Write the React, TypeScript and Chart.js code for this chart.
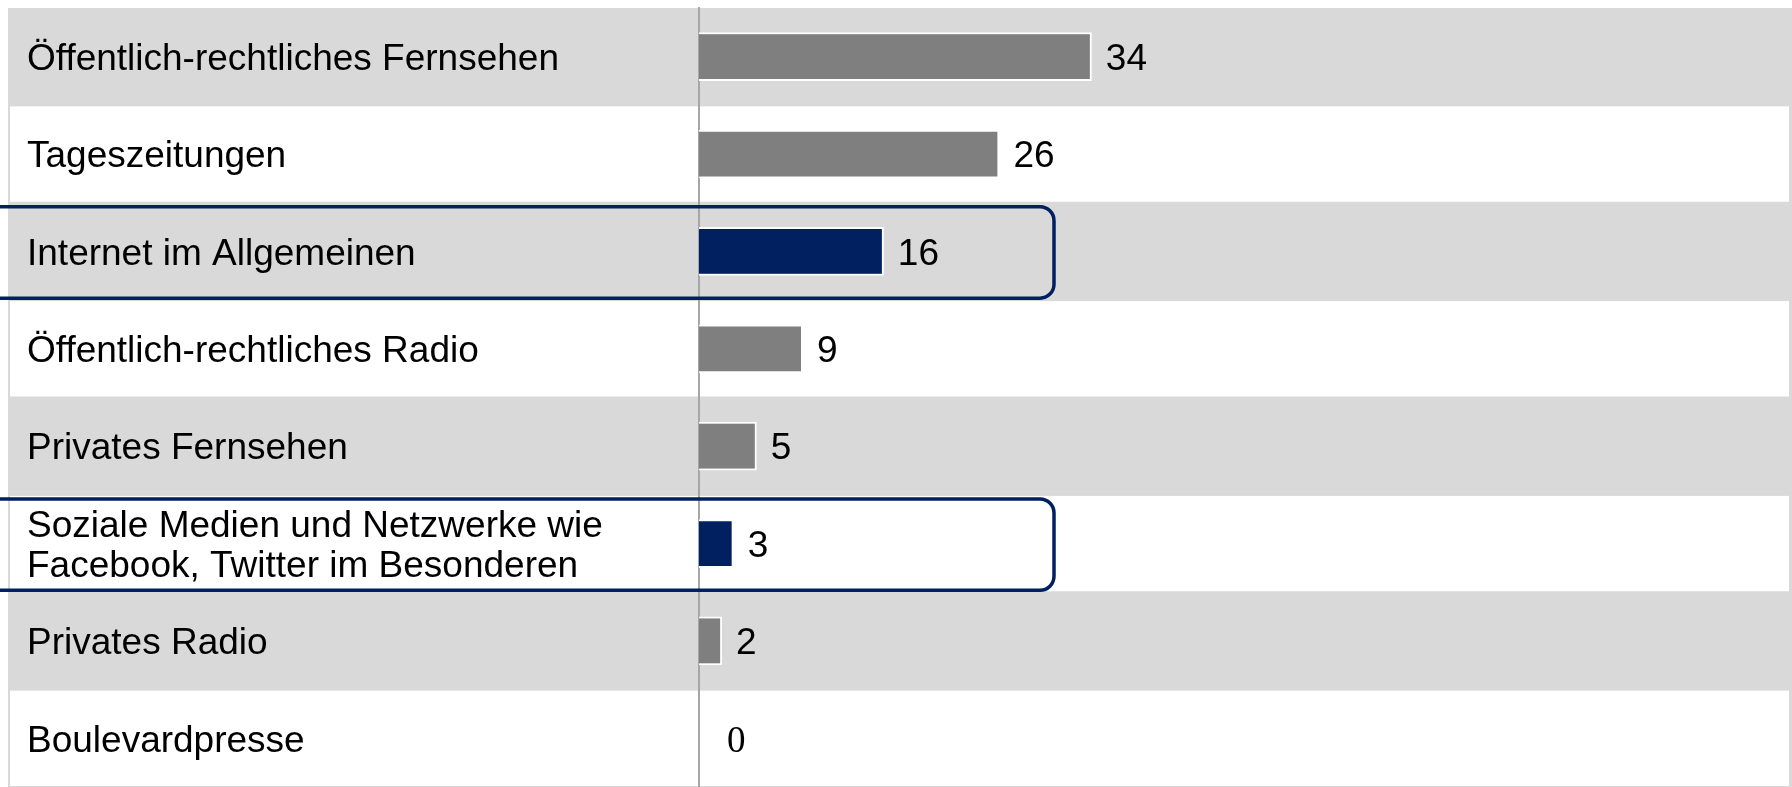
import React, { useEffect, useRef } from 'react';
import { Chart, registerables } from 'chart.js';

Chart.register(...registerables);

const categories: (string | string[])[] = [
  'Öffentlich-rechtliches Fernsehen',
  'Tageszeitungen',
  'Internet im Allgemeinen',
  'Öffentlich-rechtliches Radio',
  'Privates Fernsehen',
  ['Soziale Medien und Netzwerke wie', 'Facebook, Twitter im Besonderen'],
  'Privates Radio',
  'Boulevardpresse',
];
const values: number[] = [34, 26, 16, 9, 5, 3, 2, 0];
const highlighted: boolean[] = [false, false, true, false, false, true, false, false];

const SANS = '"Liberation Sans", Arial, sans-serif';
const SERIF = '"Liberation Serif", "Times New Roman", serif';
const NAVY = '#002060';
const GREY_BAR = '#7f7f7f';
const ROW_GREY = '#d9d9d9';

export default function App() {
  const ref = useRef<HTMLCanvasElement>(null);

  useEffect(() => {
    if (!ref.current) return;

    const bandHalf = (chart: any) =>
      (chart.chartArea.bottom - chart.chartArea.top) / categories.length / 2;

    const rowsPlugin = {
      id: 'rows',
      beforeDraw(chart: any) {
        const { ctx, chartArea } = chart;
        const y = chart.scales.y;
        const W = chart.width;
        const half = bandHalf(chart);
        ctx.save();
        ctx.fillStyle = ROW_GREY;
        ctx.fillRect(8, chartArea.top, W - 8, chartArea.bottom - chartArea.top);
        categories.forEach((_, i) => {
          if (i % 2 === 1) {
            const c = y.getPixelForValue(i);
            ctx.fillStyle = '#ffffff';
            ctx.fillRect(10, c - half + 1, W - 13, 2 * half - 2);
          }
        });
        ctx.restore();
      },
    };

    const labelsPlugin = {
      id: 'valueLabels',
      afterDatasetsDraw(chart: any) {
        const { ctx } = chart;
        const meta = chart.getDatasetMeta(0);
        ctx.save();
        ctx.fillStyle = '#000000';
        ctx.textBaseline = 'middle';
        ctx.textAlign = 'left';
        meta.data.forEach((bar: any, i: number) => {
          const v = values[i];
          if (v === 0) {
            ctx.font = `37px ${SERIF}`;
            ctx.fillText(String(v), bar.x + 28, bar.y + 4);
          } else {
            ctx.font = `37px ${SANS}`;
            ctx.fillText(String(v), bar.x + 14, bar.y + 3);
          }
        });
        ctx.restore();
      },
    };

    const boxPlugin = {
      id: 'highlightBoxes',
      afterDraw(chart: any) {
        const { ctx } = chart;
        const y = chart.scales.y;
        const half = bandHalf(chart);
        ctx.save();
        ctx.strokeStyle = NAVY;
        ctx.lineWidth = 3.5;
        highlighted.forEach((h, i) => {
          if (!h) return;
          const c = y.getPixelForValue(i);
          const top = c - half + 4;
          const bottom = c + half - 2;
          const left = -20;
          const right = 1054;
          ctx.beginPath();
          (ctx as any).roundRect(left, top, right - left, bottom - top, 14);
          ctx.stroke();
        });
        ctx.restore();
      },
    };

    const chart = new Chart(ref.current, {
      type: 'bar',
      data: {
        labels: categories,
        datasets: [
          {
            data: values,
            backgroundColor: values.map((_, i) => (highlighted[i] ? NAVY : GREY_BAR)),
            borderColor: '#ffffff',
            borderWidth: 2,
            barPercentage: 0.5,
            categoryPercentage: 1,
          },
        ],
      },
      options: {
        indexAxis: 'y',
        responsive: false,
        animation: false,
        layout: { padding: { left: 27, top: 8, right: 0, bottom: 0 } },
        plugins: {
          legend: { display: false },
          tooltip: { enabled: false },
        },
        scales: {
          x: {
            display: false,
            min: 0,
            max: 94.6,
          },
          y: {
            grid: { display: false, drawTicks: false },
            border: { display: true, color: '#a6a6a6', width: 2 },
            ticks: {
              autoSkip: false,
              crossAlign: 'far',
              padding: 0,
              labelOffset: 3,
              color: '#000000',
              font: { family: 'Liberation Sans', size: 37, lineHeight: 1.08 },
            },
            afterFit(scale: any) {
              scale.width = 672;
              scale.paddingTop = 0;
              scale.paddingBottom = 0;
            },
          },
        },
      },
      plugins: [rowsPlugin, labelsPlugin, boxPlugin],
    } as any);

    return () => chart.destroy();
  }, []);

  return (
    <div style={{ position: 'fixed', left: 0, top: 0, width: 1792, height: 787 }}>
      <canvas ref={ref} width={1792} height={787} style={{ display: 'block' }} />
    </div>
  );
}
